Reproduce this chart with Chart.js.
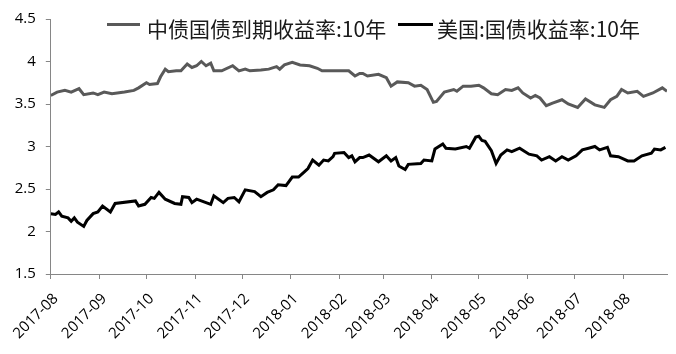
<!DOCTYPE html>
<html>
<head>
<meta charset="utf-8">
<script src="https://cdn.jsdelivr.net/npm/chart.js@4.4.1/dist/chart.umd.min.js"></script>
<style>
  html, body { margin: 0; padding: 0; background: #ffffff; }
  #wrap { position: relative; width: 676px; height: 354px; }
  #yield-chart { position: absolute; left: 0; top: 0; }
  .legend-line { position: absolute; height: 3px; }
  .legend-text {
    position: absolute;
    font-family: "Noto Sans CJK SC", sans-serif;
    font-size: 21px;
    line-height: 21px;
    color: #1a1a1a;
    white-space: nowrap;
  }
</style>
</head>
<body>
<div id="wrap">
  <canvas id="yield-chart" width="676" height="354"></canvas>
  <!-- legend sits inside the plot, like the original -->
  <div class="legend-line" style="left:107px;top:23px;width:33px;background:#595959"></div>
  <div class="legend-text" style="left:147px;top:18px">中债国债到期收益率:10年</div>
  <div class="legend-line" style="left:398px;top:23px;width:35px;background:#000000"></div>
  <div class="legend-text" style="left:437px;top:18px">美国:国债收益率:10年</div>
</div>
<script>
// x values are days counted from 2017-08-01
const monthStarts = [0, 31, 61, 92, 122, 153, 184, 212, 243, 273, 304, 334, 365];
const monthLabels = ["2017-08", "2017-09", "2017-10", "2017-11", "2017-12", "2018-01",
  "2018-02", "2018-03", "2018-04", "2018-05", "2018-06", "2018-07", "2018-08"];

// 中债国债到期收益率:10年
const cnDays = [0, 4, 9, 13, 18, 21, 27, 30, 34, 39, 47, 53, 56, 61, 63, 68, 70, 73, 75, 80,
  83, 87, 90, 93, 96, 99, 102, 104, 109, 116, 120, 124, 127, 134, 139, 144, 146, 149, 154, 159,
  165, 170, 173, 178, 190, 194, 197, 199, 202, 209, 214, 217, 221, 228, 232, 236, 240, 244, 246, 251,
  257, 259, 263, 268, 273, 276, 281, 285, 290, 294, 298, 301, 306, 309, 312, 316, 320, 326, 330, 336,
  341, 347, 353, 357, 361, 364, 368, 374, 378, 384, 390, 393];
const cnYield = [3.60, 3.64, 3.66, 3.64, 3.68, 3.61, 3.63, 3.61, 3.64, 3.62, 3.64, 3.66, 3.69, 3.75, 3.73, 3.74, 3.82, 3.91, 3.88, 3.89,
  3.89, 3.97, 3.93, 3.95, 4.00, 3.95, 3.98, 3.89, 3.89, 3.95, 3.89, 3.91, 3.89, 3.90, 3.91, 3.94, 3.91, 3.96, 3.99, 3.96,
  3.95, 3.92, 3.89, 3.89, 3.89, 3.83, 3.86, 3.86, 3.83, 3.85, 3.81, 3.71, 3.76, 3.75, 3.71, 3.72, 3.67, 3.52, 3.53, 3.64,
  3.67, 3.65, 3.71, 3.71, 3.72, 3.69, 3.62, 3.61, 3.67, 3.66, 3.69, 3.63, 3.57, 3.60, 3.57, 3.48, 3.51, 3.55, 3.50, 3.46,
  3.56, 3.49, 3.46, 3.55, 3.59, 3.67, 3.63, 3.65, 3.59, 3.63, 3.69, 3.65];

// 美国:国债收益率:10年
const usDays = [0, 3, 5, 7, 11, 13, 15, 17, 21, 23, 27, 30, 33, 38, 41, 54, 56, 60, 64, 66,
  69, 73, 79, 83, 84, 88, 90, 93, 99, 102, 104, 107, 110, 113, 117, 120, 124, 130, 134, 138,
  142, 145, 150, 154, 158, 161, 164, 167, 171, 174, 177, 180, 181, 187, 190, 192, 194, 197, 199, 203,
  209, 214, 217, 220, 222, 226, 228, 236, 238, 243, 245, 250, 252, 258, 265, 267, 271, 273, 275, 277,
  281, 284, 287, 291, 294, 299, 305, 310, 313, 318, 322, 326, 330, 335, 339, 343, 347, 350, 355, 357,
  362, 368, 372, 377, 383, 385, 389, 392];
const usYield = [2.21, 2.20, 2.23, 2.18, 2.16, 2.12, 2.16, 2.11, 2.06, 2.13, 2.21, 2.23, 2.30, 2.23, 2.33, 2.36, 2.30, 2.32, 2.40, 2.39,
  2.46, 2.38, 2.33, 2.32, 2.41, 2.40, 2.34, 2.38, 2.34, 2.32, 2.42, 2.38, 2.34, 2.39, 2.40, 2.35, 2.49, 2.47, 2.41, 2.46,
  2.49, 2.55, 2.54, 2.64, 2.64, 2.69, 2.74, 2.84, 2.78, 2.84, 2.83, 2.88, 2.92, 2.93, 2.87, 2.89, 2.82, 2.87, 2.87, 2.90,
  2.82, 2.89, 2.83, 2.87, 2.77, 2.73, 2.79, 2.80, 2.84, 2.83, 2.97, 3.03, 2.98, 2.97, 3.00, 2.98, 3.11, 3.12, 3.07, 3.06,
  2.95, 2.80, 2.90, 2.96, 2.94, 2.98, 2.91, 2.89, 2.84, 2.88, 2.83, 2.88, 2.84, 2.89, 2.96, 2.98, 3.00, 2.96, 2.99, 2.89,
  2.88, 2.83, 2.83, 2.89, 2.92, 2.97, 2.96, 2.99];

const toPoints = (days, vals) => days.map((d, i) => ({ x: d, y: vals[i] }));

const axisColor = "#868686";
const tickFont = { family: "Open Sans", size: 15 };

const ctx = document.getElementById("yield-chart").getContext("2d");

let myChart = new Chart(ctx, {
  type: "line",
  data: {
    datasets: [
      {
        label: "中债国债到期收益率:10年",
        data: toPoints(cnDays, cnYield),
        borderColor: "#595959",
        borderWidth: 3,
        pointRadius: 0,
        tension: 0,
      },
      {
        label: "美国:国债收益率:10年",
        data: toPoints(usDays, usYield),
        borderColor: "#000000",
        borderWidth: 3,
        pointRadius: 0,
        tension: 0,
      },
    ],
  },
  options: {
    responsive: false,
    animation: false,
    layout: { padding: { top: 10, right: 9, left: 0, bottom: 0 } },
    plugins: {
      legend: { display: false },
      tooltip: { enabled: false },
    },
    scales: {
      x: {
        type: "linear",
        min: 0,
        max: 393,
        afterBuildTicks: (scale) => {
          scale.ticks = monthStarts.map((v) => ({ value: v }));
        },
        afterFit: (scale) => { scale.height = 80; },
        ticks: {
          autoSkip: false,
          maxRotation: 45,
          minRotation: 45,
          padding: 11,
          labelOffset: 5,
          color: "#000000",
          font: tickFont,
          callback: (value, index) => monthLabels[index],
        },
        grid: { drawOnChartArea: false, tickLength: 5, color: axisColor, lineWidth: 1 },
        border: { color: axisColor, width: 1 },
      },
      y: {
        min: 1.5,
        max: 4.5,
        afterFit: (scale) => { scale.width = 48; },
        ticks: {
          stepSize: 0.5,
          padding: 10,
          color: "#000000",
          font: tickFont,
          // Excel style: 4 not 4.0
          callback: (value) => String(value),
        },
        grid: { drawOnChartArea: false, tickLength: 5, color: axisColor, lineWidth: 1 },
        border: { color: axisColor, width: 1 },
      },
    },
  },
});
</script>
</body>
</html>
